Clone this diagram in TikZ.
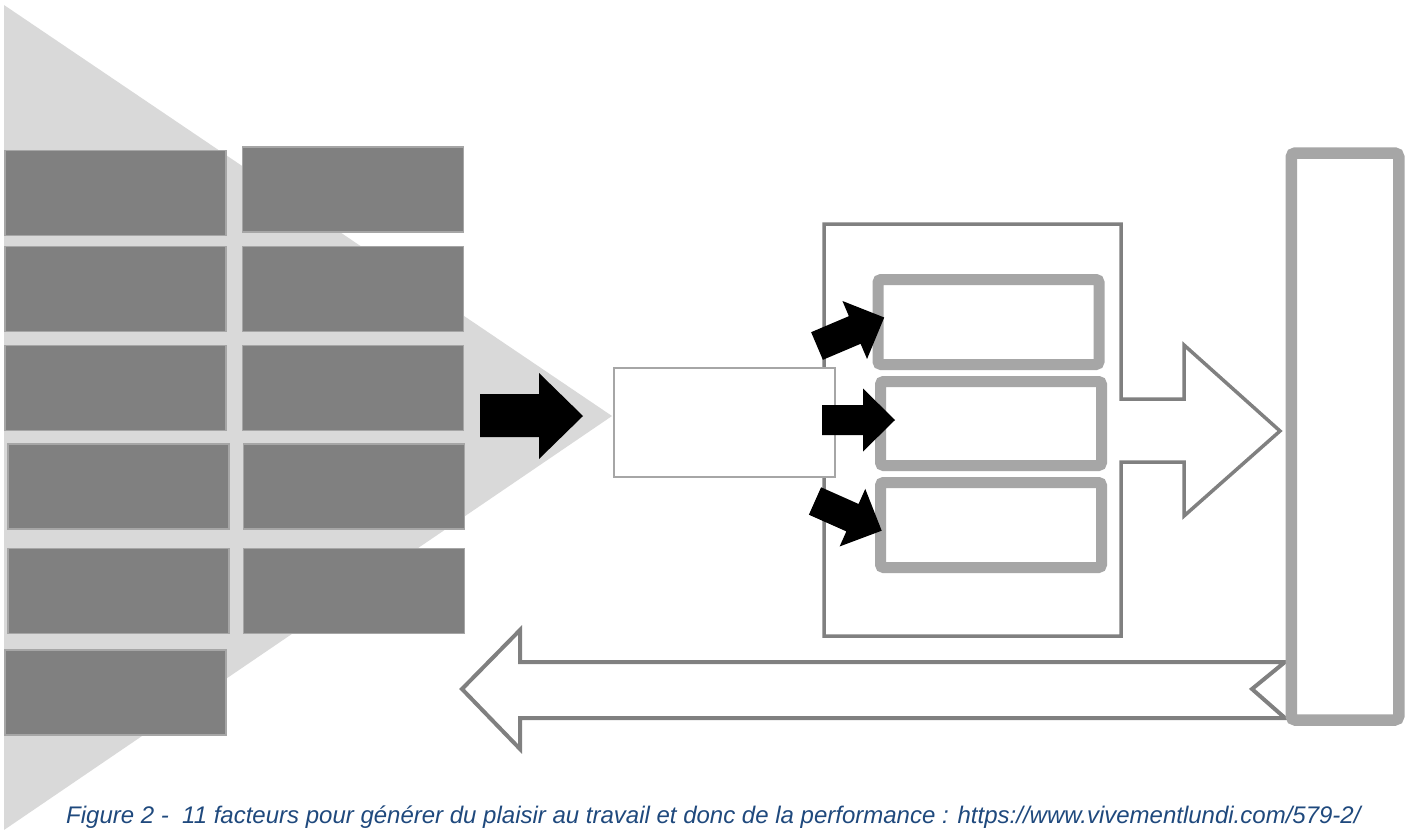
\documentclass[tikz,border=0pt]{standalone}
\usepackage{fontspec}
\newfontfamily\legende{Liberation Sans}
\definecolor{gristriangle}{HTML}{D9D9D9}
\definecolor{grisfonce}{HTML}{808080}
\definecolor{grisclair}{HTML}{A6A6A6}
\definecolor{bleulegende}{HTML}{1F497D}
\tikzset{
  facteur/.style={rectangle, fill=grisfonce, draw=grisclair, line width=1.5pt,
    minimum width=221pt, minimum height=85pt, inner sep=0pt},
  cadre/.style={rectangle, fill=white, draw=grisclair, line width=11pt,
    rounded corners=3pt, minimum width=221pt, minimum height=85pt, inner sep=0pt},
  contour/.style={draw=grisfonce, fill=white, line width=3.5pt},
  petitefleche/.pic={\fill (0,-15) -- (41,-15) -- (41,-31.5) -- (73,0) -- (41,31.5) -- (41,15) -- (0,15) -- cycle;}
}

\begin{document}
\begin{tikzpicture}[x=1pt, y=-1pt]
\useasboundingbox (0,0) rectangle (1414,830);
% fond
\fill[gristriangle] (4,5) -- (612,416) -- (4,830) -- cycle;

% les 11 facteurs
\node[facteur] (f1) at (115.5,193) {};
\node[facteur] (f2) at (353,189.5) {};
\node[facteur] (f3) at (115.5,289) {};
\node[facteur] (f4) at (353,289) {};
\node[facteur] (f5) at (115.5,388) {};
\node[facteur] (f6) at (353,388) {};
\node[facteur] (f7) at (118.5,486.5) {};
\node[facteur] (f8) at (354,486.5) {};
\node[facteur] (f9) at (118.5,591) {};
\node[facteur] (f10) at (354,591) {};
\node[facteur] (f11) at (115.5,692.5) {};

\fill (480,394) -- (539,394) -- (539,373) -- (583,416) -- (539,459) -- (539,437) -- (480,437) -- cycle;

% bloc central
\draw[contour] (824,224) -- (1121,224) -- (1121,399) -- (1184,399) -- (1184,345) -- (1280,431)
  -- (1184,516) -- (1184,462) -- (1121,462) -- (1121,636) -- (824,636) -- cycle;
\node[rectangle, fill=white, draw=grisclair, line width=1.5pt, minimum width=221pt,
  minimum height=109pt, inner sep=0pt] (plaisir) at (724.5,422.5) {};

\node[cadre] (c1) at (988.5,322) {};
\node[cadre, minimum height=84pt] (c2) at (991,423.5) {};
\node[cadre] (c3) at (991,525) {};

\pic[rotate=23] at (817,346) {petitefleche};
\pic at (822,420) {petitefleche};
\pic[rotate=-24] at (815,501) {petitefleche};

% retour
\draw[contour, line width=4pt] (462,689) -- (520,630) -- (520,662) -- (1285,662) -- (1252,689)
  -- (1285,718) -- (520,718) -- (520,749) -- cycle;
\node[rectangle, fill=white, draw=grisclair, line width=11.5pt, rounded corners=4pt,
  minimum width=107.5pt, minimum height=567pt, inner sep=0pt] (performance) at (1345,436.5) {};

\node[anchor=base west, inner sep=0pt, text=bleulegende,
  font=\legende\itshape\fontsize{24}{28}\selectfont] (legende) at (66,823)
  {Figure 2 -\ \ 11 facteurs pour générer du plaisir au travail et donc de la performance : https://www.vivementlundi.com/579-2/};
\end{tikzpicture}
\end{document}
